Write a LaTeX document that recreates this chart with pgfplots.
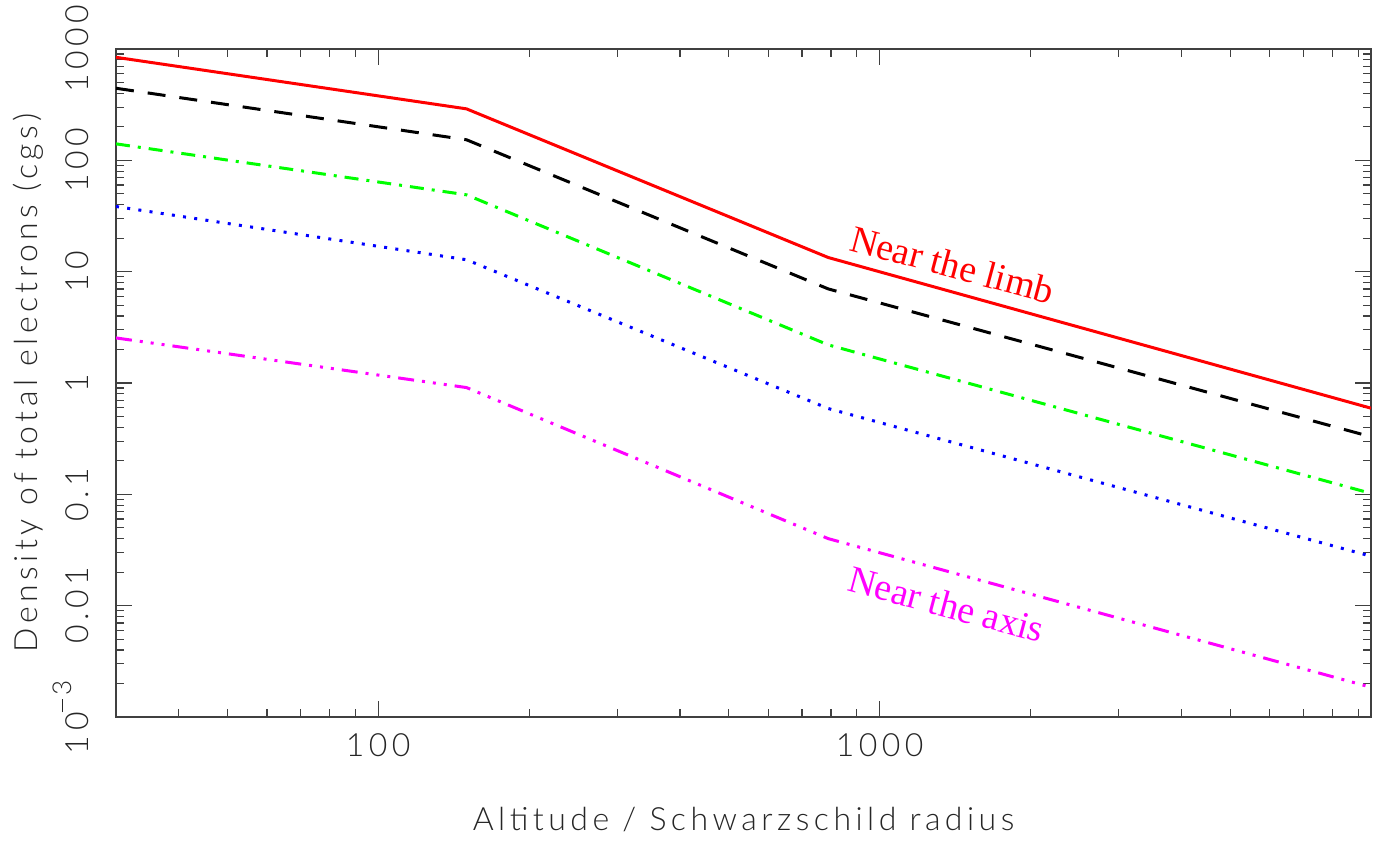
\documentclass[border=0pt]{standalone}
\usepackage{pgfplots}
\pgfplotsset{compat=1.18}
\usepackage{fontspec}
\setmainfont{Liberation Serif}
\IfFontExistsTF{Lato Light}{\newfontfamily\thinsans{Lato Light}[LetterSpace=14]}{\newfontfamily\thinsans{Lato}[LetterSpace=14]}
\newcommand{\lblfont}{\thinsans\fontsize{16}{16}\selectfont}
% drawn minus sign for the exponent label
\newcommand{\expminus}{\rule[0.3em]{0.5em}{0.06em}}
\definecolor{pmagenta}{RGB}{255,0,255}
\definecolor{pgreen}{RGB}{0,255,0}
\definecolor{pblue}{RGB}{0,0,255}
\definecolor{pred}{RGB}{255,0,0}

\begin{document}
\begin{tikzpicture}
\path[use as bounding box] (-58pt,-64.5pt) rectangle (637pt,358.5pt);
\begin{axis}[
  at={(0,0)}, anchor=south west,
  scale only axis, width=627.5pt, height=334pt,
  xmode=log, ymode=log,
  xmin=30, xmax=9550, ymin=1e-3, ymax=1000,
  xtick={100,1000}, xticklabels={100,1000},
  minor xtick={40,50,60,70,80,90,200,300,400,500,600,700,800,900,2000,3000,4000,5000,6000,7000,8000,9000},
  ytick={1e-3,1e-2,1e-1,1,10,100,1000},
  yticklabels={{10\raisebox{0.55em}{\fontsize{13}{13}\selectfont\expminus\,3}},0.01,0.1,1,10,100,1000},
  minor ytick={0.002,0.003,0.004,0.005,0.006,0.007,0.008,0.009,
               0.02,0.03,0.04,0.05,0.06,0.07,0.08,0.09,
               0.2,0.3,0.4,0.5,0.6,0.7,0.8,0.9,
               2,3,4,5,6,7,8,9,20,30,40,50,60,70,80,90,
               200,300,400,500,600,700,800,900},
  major tick length=8pt, minor tick length=4pt,
  xtick pos=both, ytick pos=both, tick align=inside,
  axis line style={black!75, line width=0.6pt},
  tick style={black!75, line width=0.6pt},
  ticklabel style={font=\lblfont, text=black!85},
  yticklabel style={rotate=90, anchor=south},
  yticklabel shift=10pt, xticklabel shift=5pt,
  xlabel={Altitude / Schwarzschild radius},
  xlabel style={font=\lblfont, text=black!85, at={(axis description cs:0.5,-0.154)}, anchor=center},
  every axis plot/.append style={line width=1.5pt, line join=round},
]
% near the limb
\addplot[pred] coordinates {(30,842) (150,290) (790,13.4) (9550,0.594)};
\addplot[black, dash pattern=on 9pt off 7pt] coordinates {(30,444) (150,153) (790,7.0) (9550,0.329)};
\addplot[pgreen, dash pattern=on 7pt off 4pt on 1.5pt off 4pt] coordinates {(30,140.6) (150,49) (790,2.2) (9550,0.102)};
\addplot[pblue, dash pattern=on 1.5pt off 4.15pt] coordinates {(30,38.5) (150,12.8) (790,0.59) (9550,0.0278)};
% near the axis
\addplot[pmagenta, dash pattern=on 8pt off 4pt on 1.5pt off 4pt on 1.5pt off 4pt on 1.5pt off 4pt] coordinates {(30,2.54) (150,0.91) (790,0.040) (9550,0.00185)};

\node[pred, rotate=-15, font=\fontsize{19}{19}\selectfont] at (axis cs:1397,11.6) {Near the limb};
\node[pmagenta, rotate=-15, font=\fontsize{19}{19}\selectfont] at (axis cs:1360,0.0103) {Near the axis};
\end{axis}
% vertical axis title, left of the axis box (box spans 0..334pt)
\node[rotate=90, anchor=center, font=\lblfont, text=black!85] at (-44pt,167pt) {Density of total electrons (cgs)};
\end{tikzpicture}
\end{document}
